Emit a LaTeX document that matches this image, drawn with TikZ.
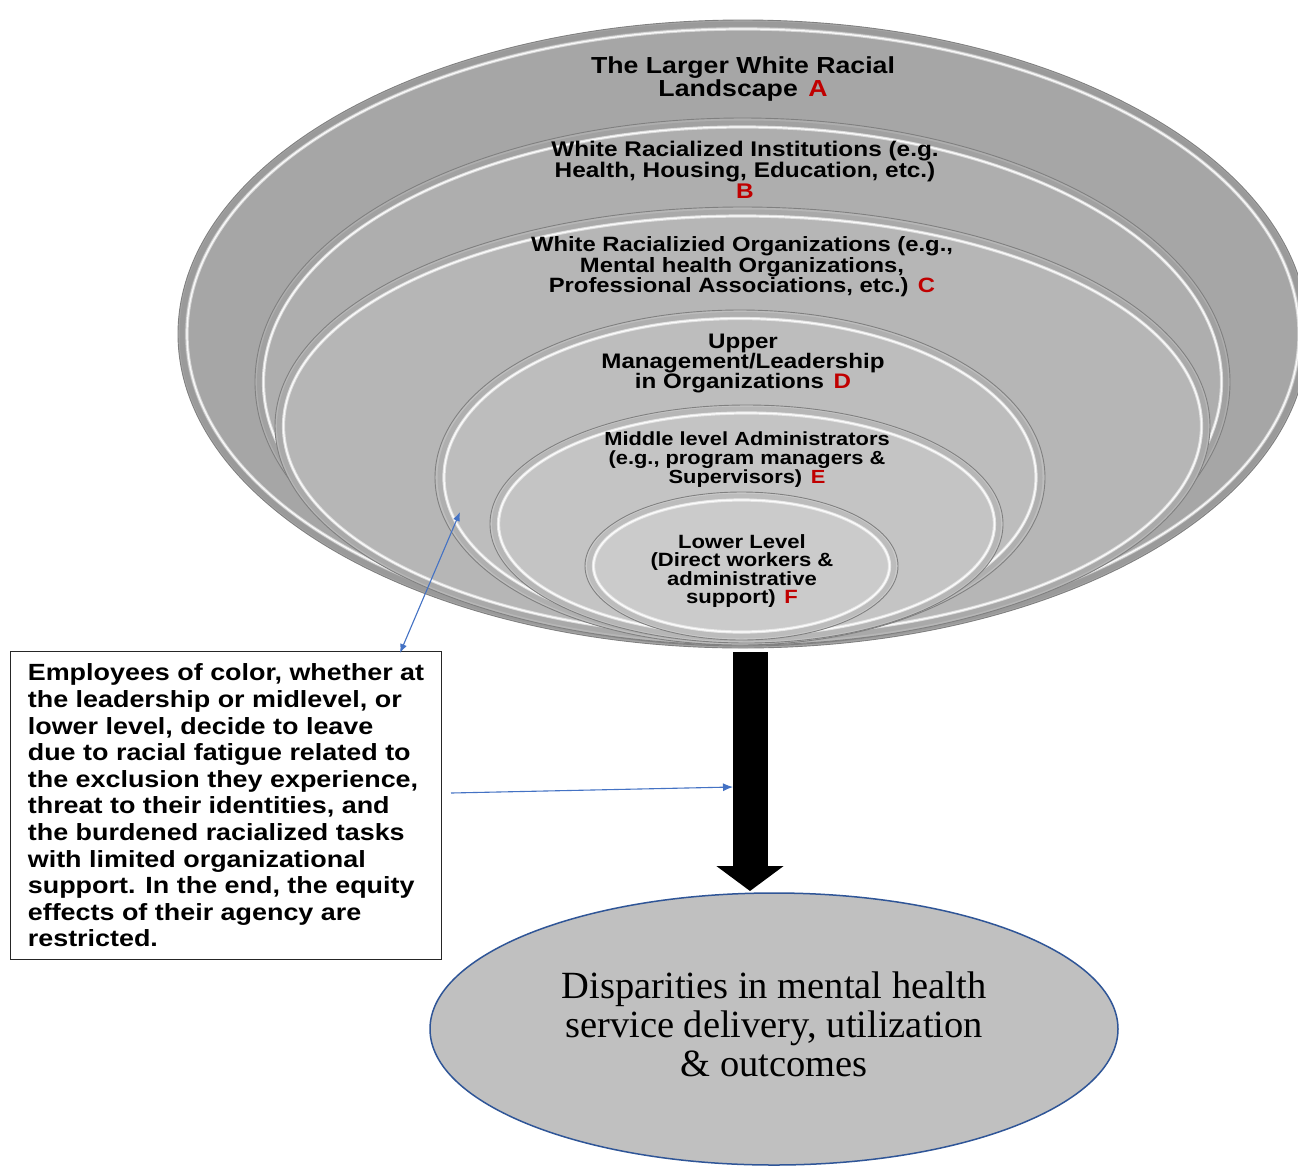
\documentclass[tikz,border=0pt]{standalone}
\usepackage{fontspec}
\usetikzlibrary{shapes.geometric,arrows.meta}
\newfontfamily\labfont[FakeStretch=1.15]{Liberation Sans}
\newfontfamily\serfont{Liberation Serif}
\definecolor{redlet}{HTML}{C00000}
\definecolor{layA}{HTML}{A6A6A6}
\definecolor{layB}{HTML}{AEAEAE}
\definecolor{layC}{HTML}{B6B6B6}
\definecolor{layD}{HTML}{BDBDBD}
\definecolor{layE}{HTML}{C4C4C4}
\definecolor{layF}{HTML}{CBCBCB}
\definecolor{dispfill}{HTML}{C0C0C0}
\definecolor{displine}{HTML}{2F5597}
\definecolor{connblue}{HTML}{4472C4}
\newcommand\redl[1]{\hspace{0.45em}\textcolor{redlet}{#1}}
\begin{document}
\begin{tikzpicture}[x=1pt,y=-1pt,
  layer/.style={ellipse, inner sep=0pt, draw=black!50, line width=0.9pt},
  bevel/.style={draw=black, line width=5pt, opacity=0.07},
  hilite/.style={draw=white, line width=3.2pt, opacity=0.55},
  hicore/.style={draw=white, line width=1.2pt, opacity=0.9},
  lab/.style={align=center, inner sep=0pt},
  bigarrow/.style={line width=35pt, draw=black, -{Triangle[width=66pt,length=25pt]}},
  bluearrow/.style={draw=connblue, line width=1.1pt},
]
\clip (0,0) rectangle (1298,1168);
\fill[white] (0,0) rectangle (1298,1168);

% nested layers
\node[layer, fill=layA, minimum width=1130pt, minimum height=628pt] (A) at (743,334) {};
\draw[bevel] (743,334) ellipse [x radius=561, y radius=310];
\draw[hilite] (743,334) ellipse [x radius=556, y radius=305];
\draw[hicore] (743,334) ellipse [x radius=556, y radius=305];
\node[layer, fill=layB, minimum width=975pt, minimum height=528pt] (B) at (742.5,382) {};
\draw[bevel] (742.5,382) ellipse [x radius=483, y radius=259];
\draw[hilite] (742.5,382) ellipse [x radius=479, y radius=255];
\draw[hicore] (742.5,382) ellipse [x radius=479, y radius=255];
\node[layer, fill=layC, minimum width=935pt, minimum height=438pt] (C) at (742.5,426) {};
\draw[bevel] (742.5,426) ellipse [x radius=463, y radius=214];
\draw[hilite] (742.5,426) ellipse [x radius=459, y radius=210];
\draw[hicore] (742.5,426) ellipse [x radius=459, y radius=210];
\node[layer, fill=layD, minimum width=610pt, minimum height=335pt] (D) at (740,477.5) {};
\draw[bevel] (740,477.5) ellipse [x radius=300, y radius=163];
\draw[hilite] (740,477.5) ellipse [x radius=296, y radius=159];
\draw[hicore] (740,477.5) ellipse [x radius=296, y radius=159];
\node[layer, fill=layE, minimum width=513pt, minimum height=238pt] (E) at (746.5,524) {};
\draw[bevel] (746.5,524) ellipse [x radius=252, y radius=115];
\draw[hilite] (746.5,524) ellipse [x radius=248, y radius=111];
\draw[hicore] (746.5,524) ellipse [x radius=248, y radius=111];
\node[layer, fill=layF, minimum width=313pt, minimum height=148pt] (F) at (741.5,566) {};
\draw[bevel] (741.5,566) ellipse [x radius=152, y radius=70];
\draw[hilite] (741.5,566) ellipse [x radius=148, y radius=66];
\draw[hicore] (741.5,566) ellipse [x radius=148, y radius=66];

% labels
\node[lab, font=\labfont\bfseries\fontsize{23.2}{22.5}\selectfont] (labA) at (743,79)
  {The Larger White Racial\\Landscape\redl{A}};
\node[lab, font=\labfont\bfseries\fontsize{21.2}{21}\selectfont] (labB) at (745,170)
  {White Racialized Institutions (e.g.\\Health, Housing, Education, etc.)\\\textcolor{redlet}{B}};
\node[lab, font=\labfont\bfseries\fontsize{20.7}{20.5}\selectfont] (labC) at (742,267)
  {White Racializied Organizations (e.g.,\\Mental health Organizations,\\Professional Associations, etc.)\redl{C}};
\node[lab, font=\labfont\bfseries\fontsize{21}{20}\selectfont] (labD) at (743,363)
  {Upper\\Management/Leadership\\in Organizations\redl{D}};
\node[lab, font=\labfont\bfseries\fontsize{19}{19}\selectfont] (labE) at (747,460)
  {Middle level Administrators\\(e.g., program managers \&\\Supervisors)\redl{E}};
\node[lab, font=\labfont\bfseries\fontsize{19.2}{18.5}\selectfont] (labF) at (742,571)
  {Lower Level\\(Direct workers \&\\administrative\\support)\redl{F}};

% outcome ellipse
\node[ellipse, inner sep=0pt, fill=dispfill, draw=displine, line width=1.5pt,
      minimum width=688pt, minimum height=272pt] (disp) at (774,1029) {};
\node[lab, font=\serfont\fontsize{38.5}{39}\selectfont] (disptext) at (774,1024)
  {Disparities in mental health\\service delivery, utilization\\\&\ outcomes};

% explanation box
\node[draw=black!85, line width=1pt, anchor=north west, minimum width=431pt, minimum height=308pt,
      inner xsep=17pt, align=left, font=\labfont\bfseries\fontsize{23.4}{26.6}\selectfont] (box) at (10,651)
  {Employees of color, whether at\\the leadership or midlevel, or\\lower level, decide to leave\\due to racial fatigue related to\\the exclusion they experience,\\threat to their identities, and\\the burdened racialized tasks\\with limited organizational\\support. In the end, the equity\\effects of their agency are\\restricted.};

% big arrow
\coordinate (arrowstart) at (750,652);
\coordinate (arrowtip) at (750,891);
\draw[bigarrow] (arrowstart) -- (arrowtip);

% blue connectors
\coordinate (boxtop) at (400,653);
\coordinate (dedge) at (460,512);
\draw[bluearrow, {Latex[length=9pt,width=7pt]}-{Latex[length=9pt,width=7pt]}] (boxtop) -- (dedge);
\coordinate (boxright) at (451,793);
\coordinate (shaftleft) at (733,787);
\draw[bluearrow, -{Latex[length=10pt,width=8pt]}] (boxright) -- (shaftleft);
\end{tikzpicture}
\end{document}
